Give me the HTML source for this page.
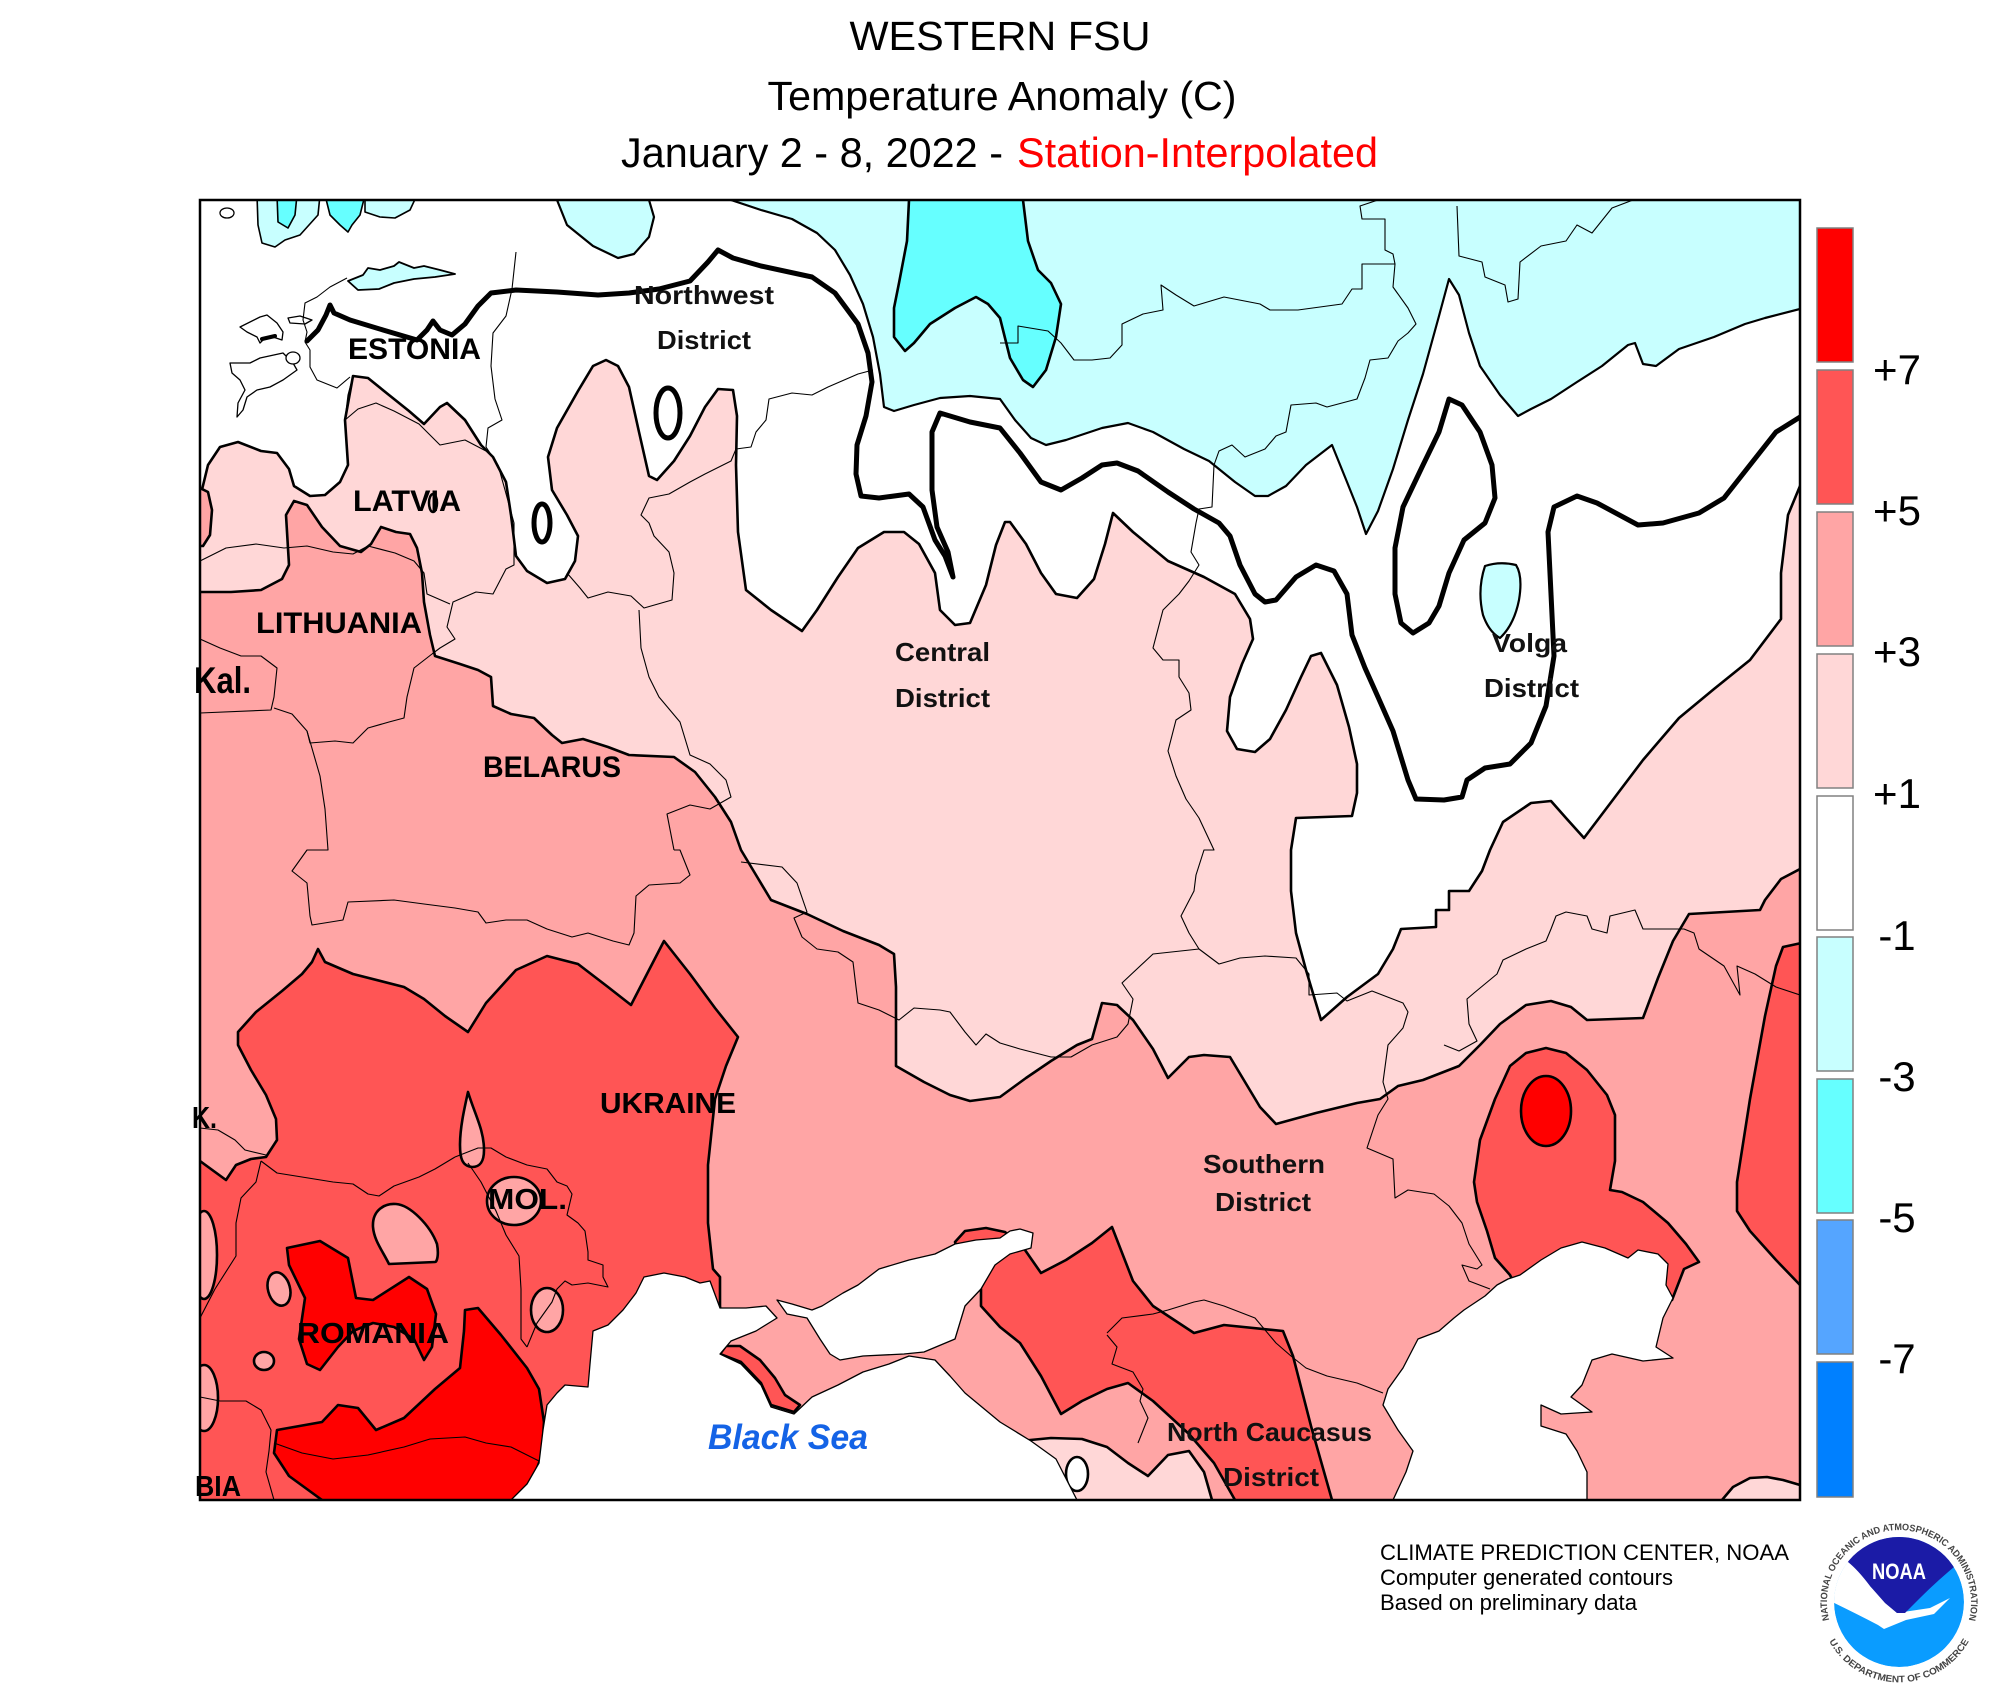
<!DOCTYPE html>
<html><head><meta charset="utf-8"><style>
html,body{margin:0;padding:0;background:#fff;}
svg{display:block;}
.lab{font-family:"Liberation Sans",Arial,sans-serif;font-weight:bold;fill:#000;}
.dis{font-family:"Liberation Sans",Arial,sans-serif;font-weight:bold;fill:#111;font-size:26px;}
</style></head><body>
<svg width="2000" height="1700" viewBox="0 0 2000 1700" xmlns="http://www.w3.org/2000/svg">
<defs>
<clipPath id="mc"><rect x="200" y="200" width="1600" height="1300"/></clipPath>
<clipPath id="lc"><circle cx="1899" cy="1602" r="65"/></clipPath>
<path id="ringTop" d="M 1831.3,1626.6 A 72,72 0 1 1 1966.7,1626.6"/>
<path id="ringBot" d="M 1826.9,1637 A 80,80 0 0 0 1971.1,1637"/>
</defs>
<rect x="0" y="0" width="2000" height="1700" fill="#fff"/>

<!-- Titles -->
<g font-family="Liberation Sans, Arial, sans-serif" fill="#000">
<text x="1000" y="50" font-size="41" text-anchor="middle" textLength="301" lengthAdjust="spacingAndGlyphs">WESTERN FSU</text>
<text x="1002" y="110" font-size="40.5" text-anchor="middle" textLength="469" lengthAdjust="spacingAndGlyphs">Temperature Anomaly (C)</text>
<text x="621" y="167" font-size="41.5" textLength="382" lengthAdjust="spacingAndGlyphs">January 2 - 8, 2022 -</text>
<text x="1017" y="167" font-size="41.5" fill="#ff0000" textLength="361" lengthAdjust="spacingAndGlyphs">Station-Interpolated</text>
</g>

<g clip-path="url(#mc)">
<rect x="200" y="200" width="1600" height="1300" fill="#fff"/>
<g stroke="#000" stroke-width="2.6" stroke-linejoin="round">
<!-- pink +1..+3 -->
<path fill="#ffd7d7" d="M 185,498 L 200,498 L 208,465 L 220,447 L 238,442 L 261,451 L 277,453 L 289,469 L 294,486 L 310,496 L 325,495 L 340,482 L 348,465 L 345,420 L 353,376 L 368,378 L 389,395 L 409,411 L 424,424 L 440,407 L 447,403 L 465,420 L 481,445 L 493,457 L 506,482 L 511,515 L 516,556 L 527,571 L 547,583 L 565,579 L 575,561 L 578,536 L 567,515 L 552,490 L 548,457 L 557,428 L 578,391 L 593,366 L 606,360 L 618,366 L 629,387 L 639,432 L 649,476 L 657,480 L 674,461 L 690,436 L 705,407 L 718,389 L 733,390 L 737,416 L 736,465 L 738,532 L 746,590 L 771,610 L 802,631 L 817,610 L 838,577 L 858,548 L 884,532 L 904,532 L 919,544 L 935,573 L 940,610 L 955,625 L 970,623 L 986,585 L 996,545 L 1005,522 L 1010,522 L 1026,544 L 1041,573 L 1056,594 L 1077,598 L 1094,579 L 1105,544 L 1113,513 L 1133,532 L 1168,561 L 1204,577 L 1235,594 L 1250,619 L 1253,639 L 1242,664 L 1230,697 L 1227,731 L 1237,749 L 1255,752 L 1270,739 L 1286,710 L 1301,677 L 1311,656 L 1321,653 L 1337,685 L 1349,727 L 1357,764 L 1357,793 L 1352,816 L 1296,818 L 1291,850 L 1291,891 L 1296,933 L 1306,970 L 1321,1020 L 1347,997 L 1378,974 L 1393,949 L 1401,929 L 1436,927 L 1436,910 L 1449,910 L 1449,891 L 1469,891 L 1482,871 L 1490,850 L 1503,822 L 1531,803 L 1551,801 L 1566,818 L 1584,838 L 1612,801 L 1643,760 L 1679,718 L 1714,689 L 1750,660 L 1781,619 L 1781,573 L 1788,515 L 1800,486 L 1815,486 L 1815,1515 L 185,1515 Z"/>
<!-- salmon +3..+5 -->
<path fill="#ffa5a5" d="M 185,592 L 200,592 L 231,592 L 261,590 L 282,579 L 289,565 L 286,515 L 294,501 L 307,505 L 322,527 L 340,546 L 361,552 L 371,544 L 381,527 L 396,532 L 410,534 L 417,548 L 422,573 L 424,602 L 430,635 L 435,656 L 460,664 L 478,670 L 491,677 L 493,706 L 511,714 L 534,718 L 552,735 L 562,743 L 583,739 L 608,747 L 629,755 L 674,757 L 695,772 L 715,797 L 731,822 L 741,850 L 756,875 L 771,900 L 807,914 L 843,931 L 879,945 L 894,954 L 896,987 L 896,1066 L 924,1082 L 950,1095 L 970,1101 L 1000,1097 L 1026,1078 L 1051,1061 L 1077,1045 L 1092,1039 L 1102,1003 L 1117,1005 L 1133,1020 L 1153,1049 L 1168,1078 L 1189,1057 L 1204,1055 L 1230,1057 L 1245,1082 L 1260,1107 L 1276,1124 L 1316,1113 L 1357,1103 L 1380,1099 L 1398,1086 L 1423,1080 L 1459,1066 L 1480,1045 L 1500,1024 L 1526,1005 L 1551,1001 L 1571,1007 L 1587,1020 L 1643,1018 L 1658,978 L 1673,941 L 1689,914 L 1760,910 L 1765,900 L 1781,879 L 1800,869 L 1815,869 L 1815,1515 L 185,1515 Z"/>
<path fill="#ffa5a5" d="M 185,488 L 200,488 L 208,492 L 212,510 L 210,535 L 203,546 L 185,546 Z"/>
<!-- light cyan -1..-3 -->
<path fill="#c8ffff" stroke-width="2.2" d="M 731,190 L 731,200 L 761,210 L 792,219 L 817,233 L 835,250 L 850,275 L 863,304 L 873,337 L 880,374 L 884,407 L 894,411 L 914,405 L 940,398 L 970,396 L 1000,399 L 1015,420 L 1031,438 L 1046,445 L 1066,440 L 1102,428 L 1128,423 L 1153,432 L 1184,449 L 1209,461 L 1235,482 L 1255,496 L 1268,496 L 1286,486 L 1306,465 L 1332,445 L 1347,482 L 1357,507 L 1366,534 L 1378,511 L 1393,469 L 1408,420 L 1423,374 L 1439,316 L 1449,279 L 1459,295 L 1469,333 L 1480,366 L 1500,395 L 1518,416 L 1531,409 L 1551,399 L 1577,382 L 1602,366 L 1628,345 L 1635,343 L 1643,364 L 1656,366 L 1679,349 L 1714,337 L 1745,324 L 1765,318 L 1800,309 L 1815,305 L 1815,190 Z"/>
<path fill="#c8ffff" stroke-width="2.2" d="M 557,190 L 557,200 L 567,225 L 593,246 L 618,258 L 634,254 L 649,237 L 654,217 L 649,200 L 649,190 Z"/>
<path fill="#c8ffff" stroke-width="1.8" d="M 348,281 L 363,275 L 368,268 L 380,270 L 394,266 L 399,262 L 414,268 L 424,266 L 440,270 L 455,274 L 435,277 L 414,279 L 394,283 L 379,289 L 358,290 Z"/>
<path fill="#c8ffff" stroke-width="1.6" d="M 257,195 L 320,195 L 318,215 L 300,235 L 285,240 L 275,247 L 262,243 L 258,225 Z"/>
<path fill="#c8ffff" stroke-width="1.6" d="M 365,195 L 417,195 L 410,210 L 395,218 L 380,217 L 365,212 Z"/>
<path fill="#c8ffff" stroke-width="2.2" d="M 1485,566 Q 1500,561 1516,565 Q 1523,576 1519,600 Q 1514,625 1500,638 Q 1489,632 1483,615 Q 1477,590 1485,566 Z"/>
<!-- cyan -3..-5 -->
<path fill="#66ffff" d="M 909,190 L 909,200 L 907,241 L 899,283 L 894,308 L 894,337 L 905,351 L 914,343 L 930,324 L 955,308 L 976,297 L 988,304 L 1000,318 L 1010,358 L 1023,380 L 1033,387 L 1046,370 L 1056,337 L 1061,304 L 1051,283 L 1038,270 L 1028,241 L 1023,200 L 1023,190 Z"/>
<path fill="#66ffff" stroke-width="1.6" d="M 277,195 L 297,195 L 295,215 L 288,228 L 278,222 Z"/>
<path fill="#66ffff" stroke-width="1.6" d="M 325,195 L 365,195 L 360,215 L 352,225 L 348,232 L 340,225 L 330,215 Z"/>
<!-- +5..+7 -->
<path fill="#ff5555" d="M 185,1161 L 200,1161 L 226,1180 L 236,1165 L 251,1159 L 266,1157 L 277,1140 L 276,1119 L 266,1095 L 251,1070 L 238,1045 L 238,1032 L 256,1012 L 282,991 L 302,974 L 312,962 L 318,949 L 325,962 L 353,974 L 404,987 L 424,999 L 445,1016 L 468,1032 L 486,1003 L 516,970 L 547,956 L 578,964 L 608,987 L 631,1005 L 649,970 L 664,941 L 690,974 L 715,1008 L 738,1037 L 726,1066 L 715,1099 L 708,1165 L 708,1223 L 713,1269 L 720,1277 L 720,1306 L 725,1360 L 560,1515 L 185,1515 Z"/>
<path fill="#ff5555" d="M 1783,947 L 1815,940 L 1815,1295 L 1800,1285 L 1776,1260 L 1750,1231 L 1737,1211 L 1737,1182 L 1750,1099 L 1765,1016 L 1776,966 Z"/>
<path fill="#ff5555" d="M 1477,1202 L 1474,1182 L 1480,1140 L 1495,1099 L 1510,1066 L 1526,1053 L 1546,1048 L 1566,1053 L 1587,1070 L 1607,1095 L 1615,1115 L 1615,1161 L 1610,1190 L 1622,1192 L 1643,1202 L 1668,1223 L 1686,1244 L 1699,1262 L 1684,1269 L 1672,1300 L 1620,1305 L 1560,1300 L 1515,1285 L 1510,1275 L 1495,1258 L 1487,1231 Z"/>
<path fill="#ff5555" d="M 955,1242 L 965,1231 L 986,1228 L 1005,1232 L 1025,1250 L 1041,1273 L 1066,1260 L 1092,1243 L 1112,1227 L 1133,1281 L 1153,1306 L 1194,1333 L 1224,1325 L 1283,1331 L 1293,1356 L 1311,1426 L 1332,1500 L 1335,1515 L 1232,1515 L 1235,1500 L 1214,1463 L 1189,1434 L 1153,1401 L 1128,1383 L 1107,1389 L 1082,1401 L 1061,1414 L 1041,1376 L 1020,1343 L 1000,1327 L 981,1306 L 981,1289 L 965,1269 Z"/>
<path fill="#ff5555" d="M 720,1354 L 741,1362 L 761,1383 L 771,1405 L 794,1412 L 800,1405 L 785,1395 L 775,1378 L 760,1360 L 740,1346 L 726,1346 Z"/>
<!-- salmon holes -->
<path fill="#ffa5a5" d="M 373,1227 C 372,1210 385,1203 396,1204 C 410,1205 430,1225 437,1244 C 439,1255 437,1262 435,1262 L 389,1264 C 382,1250 374,1240 373,1227 Z"/>
<ellipse fill="#ffa5a5" cx="514" cy="1201" rx="27" ry="24"/>
<path fill="#ffa5a5" d="M 468,1092 C 475,1115 484,1130 484,1150 C 484,1162 480,1167 472,1167 C 462,1166 460,1158 460,1145 C 460,1128 464,1110 468,1092 Z"/>
<ellipse fill="#ffa5a5" cx="279" cy="1289" rx="11" ry="17" transform="rotate(-15 279 1289)"/>
<ellipse fill="#ffa5a5" cx="547" cy="1310" rx="16" ry="22"/>
<ellipse fill="#ffa5a5" cx="264" cy="1361" rx="10" ry="9"/>
<ellipse fill="#ffa5a5" cx="204" cy="1255" rx="13" ry="44"/>
<ellipse fill="#ffa5a5" cx="204" cy="1398" rx="14" ry="33"/>
<!-- +7 -->
<path fill="#ff0000" d="M 287,1248 L 320,1241 L 348,1258 L 356,1298 L 373,1300 L 409,1277 L 427,1289 L 436,1314 L 432,1347 L 424,1360 L 414,1339 L 394,1327 L 373,1323 L 353,1331 L 338,1347 L 320,1370 L 307,1364 L 299,1339 L 305,1298 L 289,1265 Z"/>
<path fill="#ff0000" d="M 465,1310 L 478,1308 L 501,1335 L 527,1368 L 539,1389 L 544,1422 L 542,1455 L 534,1476 L 516,1500 L 510,1515 L 320,1515 L 322,1500 L 289,1476 L 274,1453 L 277,1430 L 322,1422 L 338,1405 L 358,1408 L 376,1430 L 404,1418 L 435,1389 L 460,1368 L 464,1331 Z"/>
<ellipse fill="#ff0000" cx="1546" cy="1111" rx="25" ry="35"/>
<!-- pink patches south -->
<path fill="#ffd7d7" d="M 1722,1515 L 1722,1500 L 1733,1487 L 1750,1478 L 1767,1477 L 1783,1480 L 1800,1485 L 1815,1485 L 1815,1515 Z"/>
<path fill="#ffd7d7" d="M 1020,1441 L 1051,1438 L 1082,1439 L 1107,1447 L 1128,1463 L 1148,1476 L 1168,1455 L 1189,1451 L 1204,1472 L 1212,1500 L 1214,1515 L 1020,1515 Z"/>
<ellipse fill="#fff" cx="1077" cy="1474" rx="11" ry="17"/>
</g>
<!-- seas -->
<g fill="#fff" stroke="#000" stroke-width="1.3" stroke-linejoin="round">
<path d="M 505,1515 L 511,1500 L 527,1484 L 539,1463 L 543,1430 L 547,1405 L 557,1393 L 565,1385 L 588,1387 L 590,1364 L 593,1331 L 608,1325 L 623,1310 L 636,1293 L 644,1277 L 664,1273 L 685,1277 L 700,1283 L 710,1281 L 720,1308 L 746,1308 L 766,1306 L 777,1318 L 756,1331 L 731,1341 L 720,1354 L 741,1364 L 761,1385 L 771,1407 L 794,1414 L 812,1397 L 838,1385 L 863,1372 L 889,1364 L 909,1356 L 935,1360 L 950,1376 L 965,1393 L 1000,1422 L 1031,1441 L 1056,1459 L 1077,1500 L 1080,1515 Z"/>
<path d="M 777,1300 L 792,1304 L 812,1310 L 822,1306 L 843,1293 L 858,1285 L 879,1269 L 909,1260 L 935,1254 L 955,1244 L 976,1240 L 1000,1238 L 1010,1231 L 1020,1229 L 1033,1233 L 1031,1248 L 1010,1254 L 995,1265 L 981,1289 L 965,1306 L 955,1339 L 924,1352 L 904,1354 L 863,1356 L 840,1360 L 830,1354 L 820,1339 L 807,1318 L 787,1314 Z"/>
<path d="M 1520,1275 L 1541,1260 L 1561,1248 L 1582,1242 L 1605,1248 L 1628,1258 L 1638,1250 L 1658,1254 L 1668,1264 L 1666,1285 L 1673,1298 L 1663,1318 L 1656,1347 L 1673,1358 L 1643,1361 L 1612,1354 L 1592,1360 L 1582,1385 L 1571,1397 L 1592,1412 L 1561,1414 L 1541,1405 L 1541,1426 L 1566,1434 L 1577,1451 L 1587,1472 L 1587,1500 L 1590,1515 L 1390,1515 L 1393,1500 L 1406,1472 L 1413,1451 L 1398,1430 L 1383,1405 L 1388,1389 L 1403,1368 L 1418,1339 L 1439,1331 L 1454,1318 L 1464,1310 L 1485,1296 L 1497,1285 L 1508,1279 Z"/>
<!-- islands / coast top-left -->
<path d="M 230,363 L 250,363 L 260,358 L 283,353 L 293,363 L 297,370 L 283,380 L 270,387 L 257,390 L 247,397 L 243,410 L 237,417 L 238,403 L 245,390 L 240,380 L 232,373 Z"/>
<path d="M 240,327 L 260,317 L 267,315 L 277,323 L 283,332 L 282,340 L 273,337 L 263,340 L 260,343 L 257,337 L 247,332 Z"/>
<path d="M 288,318 L 300,316 L 312,320 L 305,324 L 290,323 Z"/>
<ellipse cx="227" cy="213" rx="7" ry="5"/>
<ellipse cx="293" cy="358" rx="7" ry="6"/>
</g>
<g fill="none" stroke="#000" stroke-width="1.1" stroke-linejoin="round">
<path d="M 347,278 L 330,287 L 317,297 L 305,303 L 303,320 L 307,332 L 305,342 L 310,350 L 310,367 L 317,380 L 337,388 L 350,377"/>
<!-- borders -->
<path d="M 516,252 L 512,289 L 506,316 L 493,333 L 491,366 L 495,399 L 502,420 L 488,428 L 486,447 L 498,465 L 505,490 L 514,523 L 514,565 L 506,569 L 493,594 L 476,592 L 453,602 L 447,627 L 455,639 L 440,648 L 432,654"/>
<path d="M 353,376 L 348,395 L 345,420 L 358,409 L 376,403 L 394,411 L 419,424 L 440,445 L 465,440 L 486,451"/>
<path d="M 200,561 L 226,548 L 256,544 L 284,548 L 307,546 L 333,552 L 353,554 L 368,546 L 395,553 L 414,561 L 424,573 L 427,594 L 450,604"/>
<path d="M 200,639 L 220,648 L 241,656 L 261,656 L 277,668 L 274,697 L 271,710 L 200,713"/>
<path d="M 274,708 L 292,714 L 307,731 L 310,743 L 335,741 L 353,743 L 368,728 L 389,722 L 404,718 L 407,697 L 414,668 L 432,654"/>
<path d="M 307,731 L 320,776 L 325,809 L 328,850 L 307,850 L 292,871 L 307,883 L 310,916 L 312,925 L 343,920 L 348,902 L 394,900 L 424,904 L 455,908 L 478,912 L 486,923 L 506,920 L 527,920 L 547,929 L 572,937 L 588,933 L 613,941 L 629,945 L 634,933 L 636,896 L 649,885 L 680,883 L 690,875 L 680,850 L 674,850"/>
<path d="M 567,573 L 580,588 L 588,598 L 608,592 L 631,596 L 644,608 L 672,600 L 674,573 L 669,552 L 654,536 L 649,523 L 641,515 L 649,498 L 669,494 L 690,482 L 705,474 L 731,461 L 736,449 L 751,447 L 756,432 L 766,420 L 769,399 L 792,393 L 812,395 L 828,387 L 858,374 L 873,370"/>
<path d="M 639,610 L 641,648 L 649,677 L 659,697 L 680,722 L 690,755 L 710,764 L 726,780 L 731,797 L 710,809 L 690,805 L 667,814 L 674,850"/>
<path d="M 1000,343 L 1018,343 L 1018,326 L 1048,331 L 1061,343 L 1074,360 L 1092,360 L 1110,358 L 1122,345 L 1122,324 L 1143,314 L 1163,310 L 1161,285 L 1176,295 L 1194,306 L 1224,297 L 1260,304 L 1270,310 L 1298,310 L 1342,304 L 1352,289 L 1362,289 L 1362,264 L 1395,264 L 1393,254 L 1385,250 L 1385,219 L 1362,219 L 1360,206 L 1378,200"/>
<path d="M 1395,264 L 1393,287 L 1408,308 L 1416,324 L 1408,333 L 1398,341 L 1388,358 L 1370,360 L 1365,378 L 1357,399 L 1327,407 L 1316,403 L 1291,405 L 1286,432 L 1276,436 L 1265,449 L 1245,457 L 1232,445 L 1219,451 L 1214,465 L 1212,507 L 1199,509 L 1196,523 L 1191,552 L 1199,565 L 1189,581 L 1179,594 L 1163,610 L 1153,648 L 1163,660 L 1179,660 L 1179,677 L 1189,693 L 1191,710 L 1176,720 L 1168,751 L 1176,776 L 1186,799 L 1199,818 L 1214,850 L 1204,850 L 1196,875 L 1194,891 L 1181,916 L 1189,933 L 1199,949 L 1153,954 L 1122,983 L 1133,999 L 1128,1024 L 1117,1037 L 1092,1045 L 1071,1057 L 1051,1057 L 1020,1049 L 1000,1043 L 986,1034 L 976,1045 L 965,1032 L 950,1012 L 940,1010 L 914,1008 L 899,1020 L 879,1010 L 858,1003 L 856,987 L 853,962 L 838,952 L 817,949 L 802,937 L 794,918 L 807,912 L 797,883 L 782,867 L 741,862"/>
<path d="M 1457,206 L 1459,256 L 1482,262 L 1485,277 L 1505,285 L 1508,302 L 1518,299 L 1520,262 L 1541,246 L 1566,241 L 1577,225 L 1592,233 L 1612,208 L 1633,200"/>
<path d="M 1199,949 L 1219,964 L 1240,958 L 1265,956 L 1296,958 L 1309,974 L 1309,995 L 1337,993 L 1347,1001 L 1372,991 L 1403,1003 L 1408,1012 L 1403,1028 L 1388,1045 L 1383,1082 L 1388,1099 L 1378,1115 L 1367,1148 L 1393,1159 L 1395,1198 L 1408,1190 L 1434,1194 L 1449,1206 L 1462,1223 L 1469,1244 L 1482,1265 L 1477,1269 L 1462,1265 L 1469,1281 L 1490,1289"/>
<path d="M 1444,1045 L 1459,1051 L 1477,1041 L 1469,1024 L 1467,999 L 1474,993 L 1497,974 L 1503,960 L 1526,949 L 1546,941 L 1551,929 L 1556,916 L 1566,912 L 1587,916 L 1592,929 L 1607,933 L 1610,916 L 1635,910 L 1643,929 L 1684,929 L 1694,933 L 1699,949 L 1724,966 L 1740,995 L 1737,966 L 1755,974 L 1776,987 L 1800,995"/>
<path d="M 1107,1333 L 1122,1318 L 1153,1314 L 1168,1310 L 1194,1302 L 1204,1300 L 1224,1306 L 1255,1318 L 1276,1343 L 1291,1356 L 1306,1368 L 1327,1376 L 1357,1383 L 1383,1393"/>
<path d="M 1107,1335 L 1117,1347 L 1112,1364 L 1133,1372 L 1143,1389 L 1140,1401 L 1148,1418 L 1138,1443"/>
<path d="M 455,1157 L 478,1148 L 491,1148 L 506,1157 L 527,1165 L 547,1169 L 557,1182 L 567,1186 L 572,1194 L 567,1215 L 578,1223 L 585,1231 L 588,1252 L 588,1260 L 603,1265 L 603,1277 L 608,1287 L 588,1283 L 572,1285 L 565,1281 L 557,1289 L 552,1302 L 537,1323 L 527,1347"/>
<path d="M 468,1163 L 481,1182 L 496,1211 L 506,1235 L 519,1256 L 521,1289 L 521,1339 L 527,1347"/>
<path d="M 261,1161 L 277,1173 L 302,1177 L 333,1182 L 353,1184 L 368,1194 L 379,1196 L 394,1186 L 419,1177 L 435,1169 L 455,1157"/>
<path d="M 261,1161 L 256,1182 L 241,1198 L 236,1223 L 236,1256 L 215,1289 L 200,1318"/>
<path d="M 200,1397 L 220,1401 L 246,1401 L 261,1410 L 271,1430 L 269,1451 L 266,1472 L 274,1500"/>
<path d="M 274,1443 L 302,1453 L 333,1459 L 368,1455 L 404,1447 L 430,1439 L 465,1437 L 486,1443 L 511,1447 L 539,1461"/>
<path d="M 200,1128 L 218,1130 L 235,1140 L 245,1150 L 266,1155"/>
</g>
<!-- zero contour (thick) -->
<g fill="none" stroke="#000" stroke-width="5" stroke-linejoin="round" stroke-linecap="round">
<path d="M 307,341 L 318,330 L 326,315 L 330,305 L 334,313 L 350,320 L 383,330 L 417,340 L 427,330 L 433,321 L 440,330 L 452,335 L 465,324 L 478,306 L 491,293 L 516,290 L 557,292 L 598,295 L 629,293 L 659,289 L 690,281 L 708,262 L 718,250 L 733,258 L 761,266 L 812,277 L 835,293 L 858,324 L 868,353 L 872,382 L 866,416 L 857,445 L 856,474 L 861,496 L 879,498 L 909,494 L 923,507 L 935,540 L 945,556 L 953,577 L 948,552 L 937,527 L 932,490 L 932,432 L 940,413 L 970,422 L 1000,428 L 1020,453 L 1041,482 L 1061,490 L 1082,478 L 1102,465 L 1117,463 L 1138,471 L 1168,492 L 1194,509 L 1219,523 L 1230,536 L 1240,565 L 1255,594 L 1265,602 L 1276,600 L 1296,577 L 1316,565 L 1334,571 L 1347,594 L 1352,635 L 1365,668 L 1378,697 L 1393,731 L 1408,780 L 1416,799 L 1444,800 L 1462,797 L 1467,780 L 1485,768 L 1510,764 L 1531,743 L 1546,706 L 1554,656 L 1551,594 L 1548,532 L 1554,507 L 1577,496 L 1597,503 L 1638,525 L 1663,523 L 1699,513 L 1724,498 L 1750,465 L 1776,432 L 1805,414"/>
<path d="M 1449,399 L 1462,405 L 1480,432 L 1492,465 L 1495,498 L 1485,523 L 1464,540 L 1449,573 L 1439,606 L 1429,623 L 1413,633 L 1401,623 L 1395,594 L 1395,548 L 1403,507 L 1423,465 L 1439,432 Z"/>
<ellipse cx="668" cy="413" rx="12" ry="25"/>
<ellipse cx="542" cy="523" rx="8" ry="19"/>
<path d="M 262,339 L 275,336" stroke-width="4"/>
</g>
<ellipse cx="433" cy="503" rx="4" ry="9" fill="none" stroke="#000" stroke-width="2.5"/>
</g>

<!-- Map labels -->
<g class="lab">
<text x="348" y="359" font-size="30" textLength="133" lengthAdjust="spacingAndGlyphs">ESTONIA</text>
<text x="353" y="511" font-size="30" textLength="108" lengthAdjust="spacingAndGlyphs">LATVIA</text>
<text x="256" y="633" font-size="30" textLength="166" lengthAdjust="spacingAndGlyphs">LITHUANIA</text>
<text x="194" y="693" font-size="37" textLength="57" lengthAdjust="spacingAndGlyphs">Kal.</text>
<text x="483" y="777" font-size="30" textLength="138" lengthAdjust="spacingAndGlyphs">BELARUS</text>
<text x="600" y="1113" font-size="29" textLength="136" lengthAdjust="spacingAndGlyphs">UKRAINE</text>
<text x="488" y="1209" font-size="29" textLength="79" lengthAdjust="spacingAndGlyphs">MOL.</text>
<text x="297" y="1343" font-size="29" textLength="152" lengthAdjust="spacingAndGlyphs">ROMANIA</text>
<text x="192" y="1128" font-size="31" textLength="25" lengthAdjust="spacingAndGlyphs">K.</text>
<text x="195" y="1496" font-size="29" textLength="46" lengthAdjust="spacingAndGlyphs">BIA</text>
</g>
<g class="dis">
<text x="634" y="304" textLength="140" lengthAdjust="spacingAndGlyphs">Northwest</text>
<text x="657" y="349" textLength="94" lengthAdjust="spacingAndGlyphs">District</text>
<text x="895" y="661" textLength="95" lengthAdjust="spacingAndGlyphs">Central</text>
<text x="895" y="707" textLength="95" lengthAdjust="spacingAndGlyphs">District</text>
<text x="1492" y="652" textLength="75" lengthAdjust="spacingAndGlyphs">Volga</text>
<text x="1484" y="697" textLength="95" lengthAdjust="spacingAndGlyphs">District</text>
<text x="1203" y="1173" textLength="122" lengthAdjust="spacingAndGlyphs">Southern</text>
<text x="1215" y="1211" textLength="96" lengthAdjust="spacingAndGlyphs">District</text>
<text x="1167" y="1441" textLength="205" lengthAdjust="spacingAndGlyphs">North Caucasus</text>
<text x="1223" y="1486" textLength="96" lengthAdjust="spacingAndGlyphs">District</text>
</g>
<text x="708" y="1449" font-family="Liberation Sans, Arial, sans-serif" font-weight="bold" font-style="italic" font-size="35" fill="#1463e6" textLength="160" lengthAdjust="spacingAndGlyphs">Black Sea</text>

<rect x="200" y="200" width="1600" height="1300" fill="none" stroke="#000" stroke-width="2.5"/>

<!-- Colorbar -->
<g stroke="#808080" stroke-width="1.5">
<rect x="1817" y="228" width="36" height="134" fill="#ff0000"/>
<rect x="1817" y="370" width="36" height="134" fill="#ff5555"/>
<rect x="1817" y="512" width="36" height="134" fill="#ffa5a5"/>
<rect x="1817" y="654" width="36" height="134" fill="#ffd7d7"/>
<rect x="1817" y="796" width="36" height="134" fill="#ffffff"/>
<rect x="1817" y="937" width="36" height="134" fill="#c8ffff"/>
<rect x="1817" y="1079" width="36" height="134" fill="#66ffff"/>
<rect x="1817" y="1220" width="36" height="134" fill="#55a5ff"/>
<rect x="1817" y="1362" width="36" height="135" fill="#0080ff"/>
</g>
<g font-family="Liberation Sans, Arial, sans-serif" font-size="42" fill="#000" text-anchor="middle">
<text x="1897" y="384">+7</text>
<text x="1897" y="525">+5</text>
<text x="1897" y="666">+3</text>
<text x="1897" y="808">+1</text>
<text x="1897" y="950">-1</text>
<text x="1897" y="1091">-3</text>
<text x="1897" y="1232">-5</text>
<text x="1897" y="1373">-7</text>
</g>

<!-- Footer -->
<g font-family="Liberation Sans, Arial, sans-serif" font-size="22" fill="#000">
<text x="1380" y="1560" textLength="409" lengthAdjust="spacingAndGlyphs">CLIMATE PREDICTION CENTER, NOAA</text>
<text x="1380" y="1585" textLength="293" lengthAdjust="spacingAndGlyphs">Computer generated contours</text>
<text x="1380" y="1610" textLength="257" lengthAdjust="spacingAndGlyphs">Based on preliminary data</text>
</g>

<!-- NOAA logo -->
<circle cx="1899" cy="1601" r="80" fill="#fff"/>
<g clip-path="url(#lc)">
<circle cx="1899" cy="1602" r="65" fill="#0a9cff"/>
<path d="M 1828,1530 L 1870,1530 L 1870,1586 L 1887,1604 L 1897,1613 L 1930,1608 L 1950,1598 L 1934,1614 L 1906,1620 L 1884,1629 L 1878,1625 Q 1855,1613 1828,1600 Z" fill="#fff"/>
<path d="M 1825,1530 L 1975,1530 L 1975,1556 L 1960,1562 Q 1938,1580 1920,1598 L 1905,1613 L 1897,1613 L 1885,1603 L 1870,1586 Q 1858,1570 1848,1562 L 1825,1556 Z" fill="#1b1ba6"/>
</g>
<text x="1899" y="1579" font-family="Liberation Sans, Arial, sans-serif" font-weight="bold" font-size="22" fill="#fff" text-anchor="middle" textLength="54" lengthAdjust="spacingAndGlyphs">NOAA</text>
<g font-family="Liberation Sans, Arial, sans-serif" font-weight="bold" font-size="9.5" fill="#444">
<text><textPath href="#ringTop" startOffset="50%" text-anchor="middle" textLength="262" lengthAdjust="spacingAndGlyphs">NATIONAL OCEANIC AND ATMOSPHERIC ADMINISTRATION</textPath></text>
<text><textPath href="#ringBot" startOffset="50%" text-anchor="middle" textLength="170" lengthAdjust="spacingAndGlyphs">U.S. DEPARTMENT OF COMMERCE</textPath></text>
</g>
</svg>
</body></html>
